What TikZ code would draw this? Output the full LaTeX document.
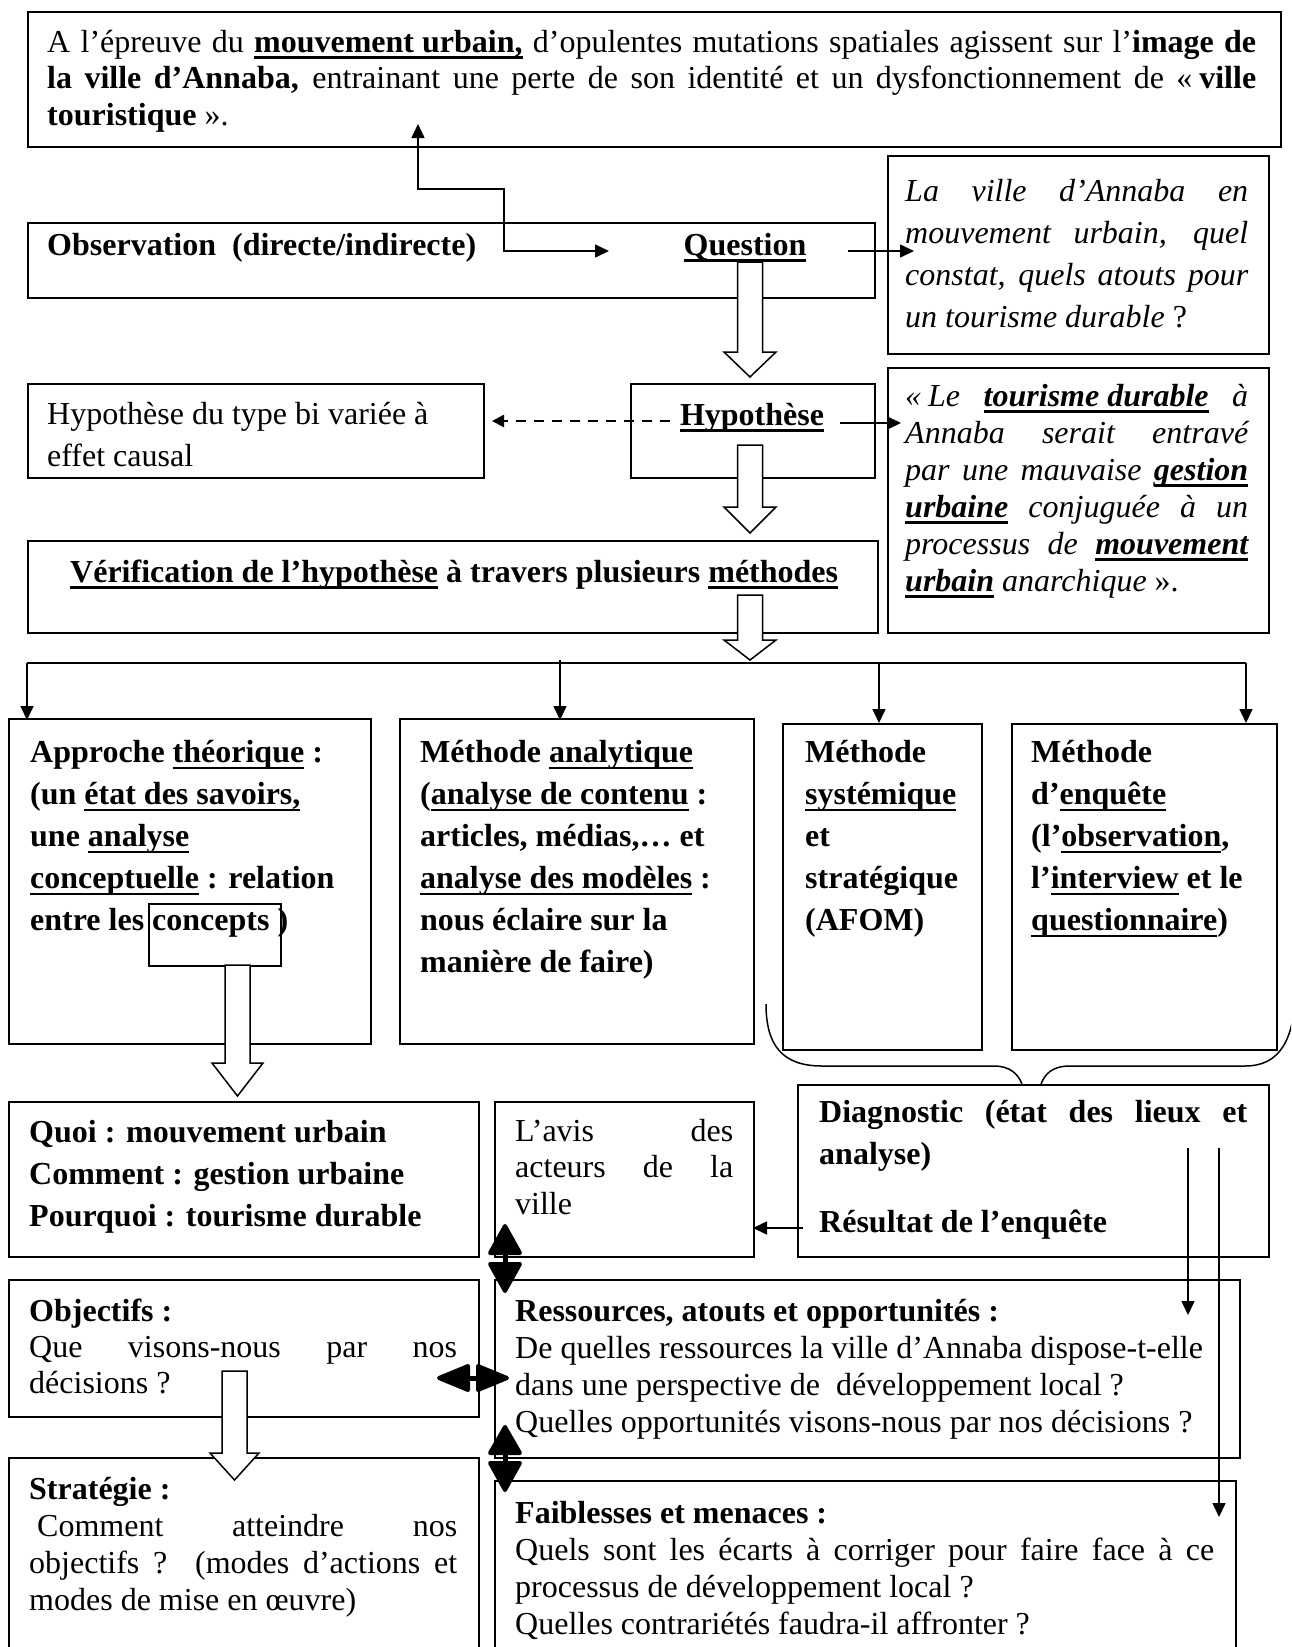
\documentclass[tikz,border=0pt]{standalone}
\usepackage{fontspec}
\setmainfont{Liberation Serif}
\usetikzlibrary{arrows.meta}
% underline at a fixed depth, crossing the descenders
\newsavebox{\ulbox}
\newcommand{\uline}[1]{\sbox{\ulbox}{#1}\rlap{\rule[-6.5pt]{\wd\ulbox}{2.4pt}}\usebox{\ulbox}}
% justified line of a given width
\newcommand{\jl}[2]{\makebox[#1][s]{#2}}
% bold underlined words
\newcommand{\bu}[1]{\textbf{\uline{#1}}}

\tikzset{
  box/.style={draw, line width=1.8pt, inner sep=0pt, anchor=north west},
  txt/.style={inner sep=0pt, anchor=north west, align=left},
  tf/.style={font=\fontsize{32}{#1}\selectfont},
  tfb/.style={font=\fontsize{32}{#1}\selectfont\bfseries},
  tfi/.style={font=\fontsize{32}{#1}\selectfont\itshape},
  link/.style={line width=1.6pt, -{Triangle[length=14pt,width=13pt]}},
  hollow/.style={draw, fill=white, line width=1.5pt, line join=miter},
  dblhead/.style={draw, fill, line width=4pt, line join=round},
  dblshaft/.style={draw, line width=5pt},
}

\begin{document}
\begin{tikzpicture}[x=1pt,y=-1pt]
\useasboundingbox (0,0) rectangle (1291,1647);
\clip (0,0) rectangle (1291,1647);
\fill[white] (0,0) rectangle (1291,1647);

% ---------- boxes ----------
\node[box, minimum width=1253pt, minimum height=135pt] (top) at (27,11) {};
\node[box, minimum width=847pt, minimum height=75pt] (obs) at (27,222) {};
\node[box, minimum width=381pt, minimum height=198pt] (qbox) at (887,155) {};
\node[box, minimum width=456pt, minimum height=94pt] (htype) at (27,383) {};
\node[box, minimum width=244pt, minimum height=94pt] (hyp) at (630,383) {};
\node[box, minimum width=381pt, minimum height=265pt] (hbox) at (887,367) {};
\node[box, minimum width=850pt, minimum height=92pt] (verif) at (27,540) {};
\node[box, minimum width=362pt, minimum height=325pt] (theo) at (8,718) {};
\node[box, minimum width=354pt, minimum height=325pt] (analy) at (399,718) {};
\node[box, minimum width=199pt, minimum height=326pt] (syst) at (782,723) {};
\node[box, minimum width=265pt, minimum height=326pt] (enq) at (1011,723) {};
\node[box, minimum width=132pt, minimum height=62pt] (concept) at (148,903) {};
\node[box, minimum width=470pt, minimum height=155pt] (quoi) at (8,1101) {};
\node[box, minimum width=259pt, minimum height=155pt] (avis) at (494,1101) {};
\node[box, minimum width=471pt, minimum height=172pt] (diag) at (797,1084) {};
\node[box, minimum width=470pt, minimum height=137pt] (obj) at (8,1279) {};
\node[box, minimum width=745pt, minimum height=178pt] (ress) at (494,1279) {};
\node[box, minimum width=470pt, minimum height=300pt] (strat) at (8,1457) {};
\node[box, minimum width=741pt, minimum height=300pt] (faib) at (494,1480) {};

% ---------- texts ----------
\node[txt, tf=36.6] (toptxt) at (47,26.4) {\strut\jl{1209pt}{A l’épreuve du \bu{mouvement urbain,} d’opulentes mutations spatiales agissent sur l’\textbf{image de}}\\
\jl{1209pt}{\textbf{la ville d’Annaba,} entrainant une perte de son identité et un dysfonctionnement de \hbox{«\kern7pt\textbf{ville}}}\\
\textbf{touristique} ».};

\node[txt, tfb=37, anchor=base west] (obstxt) at (47,255) {Observation\ \ (directe/indirecte)};
\node[inner sep=0pt, tfb=37, anchor=base] (qtxt) at (745,255) {\uline{Question}};

\node[txt, tfi=42] (qboxtxt) at (905,171.6) {\strut\jl{343pt}{La ville d’Annaba en}\\
\jl{343pt}{mouvement urbain, quel}\\
\jl{343pt}{constat, quels atouts pour}\\
un tourisme durable \upshape?};

\node[txt, tf=42] (htypetxt) at (47,394.6) {\strut Hypothèse du type bi variée à\\ effet causal};
\node[inner sep=0pt, tfb=37, anchor=base] (hyptxt) at (752,425) {\uline{Hypothèse}};

\node[txt, tfi=37] (hboxtxt) at (905,380.1) {\strut\jl{343pt}{\hbox{«\kern7pt Le} \bu{tourisme durable} à}\\
\jl{343pt}{Annaba serait entravé}\\
\jl{343pt}{par une mauvaise \bu{gestion}}\\
\jl{343pt}{\bu{urbaine} conjuguée à un}\\
\jl{343pt}{processus de \bu{mouvement}}\\
\bu{urbain} anarchique \upshape».};

\node[inner sep=0pt, tfb=37, anchor=base west] (veriftxt) at (70,582) {\uline{Vérification de l’hypothèse} à travers plusieurs \uline{méthodes}};

\node[txt, tfb=42] (theotxt) at (30,733) {\strut Approche \uline{théorique} :\\
(un \uline{état des savoirs,}\\
une \uline{analyse}\\
\uline{conceptuelle} : relation\\
entre les concepts )};

\node[txt, tfb=42] (analytxt) at (420,733) {\strut Méthode \uline{analytique}\\
(\uline{analyse de contenu} :\\
articles, médias,… et\\
\uline{analyse des modèles} :\\
nous éclaire sur la\\
manière de faire)};

\node[txt, tfb=42] (systtxt) at (805,733) {\strut Méthode\\ \uline{systémique}\\ et\\ stratégique\\ (AFOM)};

\node[txt, tfb=42] (enqtxt) at (1031,733) {\strut Méthode\\
d’\uline{enquête}\\
(l’\uline{observation},\\
l’\uline{interview} et le\\
\uline{questionnaire})};

\node[txt, tfb=42] (quoitxt) at (29,1112.5) {\strut Quoi : mouvement urbain\\
Comment : gestion urbaine\\
Pourquoi : tourisme durable};

\node[txt, tf=36.7] (avistxt) at (515,1115.3) {\strut\jl{218pt}{L’avis des}\\ \jl{218pt}{acteurs de la}\\ ville};

\node[txt, tfb=42] (diagtxt) at (819,1092.6) {\strut\jl{428pt}{Diagnostic (état des lieux et}\\
analyse)\\[26pt]
Résultat de l’enquête};

\node[txt, tf=36] (objtxt) at (29,1296.3) {\strut\textbf{Objectifs :}\\
\jl{428pt}{Que visons-nous par nos}\\
décisions ?};

\node[txt, tf=36.7] (resstxt) at (515,1296) {\strut\textbf{Ressources, atouts et opportunités :}\\
De quelles ressources la ville d’Annaba dispose-t-elle\\
dans une perspective de\ \ développement local ?\\
Quelles opportunités visons-nous par nos décisions ?};

\node[txt, tf=37.2] (strattxt) at (29,1473) {\strut\textbf{Stratégie :}\\
\hspace*{8pt}\jl{420pt}{Comment atteindre nos}\\
\jl{428pt}{objectifs ? (modes d’actions et}\\
modes de mise en œuvre)};

\node[txt, tf=37] (faibtxt) at (515,1497) {\strut\textbf{Faiblesses et menaces :}\\
\jl{699pt}{Quels sont les écarts à corriger pour faire face à ce}\\
processus de développement local ?\\
Quelles contrariétés faudra-il affronter ?};

% ---------- thin connectors ----------
\coordinate (up1) at (418,124);
\coordinate (up2) at (418,189);
\coordinate (up3) at (504,189);
\coordinate (up4) at (504,251);
\coordinate (up5) at (609,251);
\draw[line width=1.6pt, {Triangle[length=14pt,width=13pt]}-{Triangle[length=14pt,width=13pt]}]
  (up1) -- (up2) -- (up3) -- (up4) -- (up5);

\coordinate (q1) at (848,251);
\coordinate (q2) at (914,251);
\draw[link] (q1) -- (q2);

\coordinate (h1) at (840,423);
\coordinate (h2) at (901,423);
\draw[link] (h1) -- (h2);

\coordinate (d1) at (670,421);
\coordinate (d2) at (492,421);
\draw[line width=2.6pt, dash pattern=on 10pt off 8pt, -{Triangle[length=12pt,width=12pt]}] (d1) -- (d2);

% distribution bus towards the four methods
\coordinate (b1) at (27,663);
\coordinate (b2) at (560,663);
\coordinate (b3) at (879,663);
\coordinate (b4) at (1246,663);
\draw[line width=1.6pt] (b1) -- (b4);
\draw[link] (b1) -- (27,720);
\draw[link] (560,660) -- (560,720);
\draw[link] (b3) -- (879,723);
\draw[link] (b4) -- (1246,723);

\coordinate (r1) at (803,1228);
\coordinate (r2) at (753,1228);
\draw[link] (r1) -- (r2);

\coordinate (g1) at (1188,1148);
\coordinate (g2) at (1188,1315);
\coordinate (g3) at (1219,1148);
\coordinate (g4) at (1219,1517);
\draw[link] (g1) -- (g2);
\draw[link] (g3) -- (g4);

% ---------- brace gathering the last two methods ----------
\draw[line width=1.5pt]
  (766,1004) .. controls (766,1045) and (782,1066) .. (822,1066)
  -- (994,1066) .. controls (1010,1066) and (1018,1074) .. (1022,1084);
\draw[line width=1.5pt]
  (1041,1084) .. controls (1045,1074) and (1052,1066) .. (1070,1066)
  -- (1245,1066) .. controls (1280,1066) and (1294,1040) .. (1296,990);

% ---------- hollow block arrows ----------
\path[hollow] (737.5,262) -- (737.5,352) -- (724,352) -- (750,377) -- (776,352) -- (762.5,352) -- (762.5,262) -- cycle;
\path[hollow] (737.5,445) -- (737.5,507) -- (724,507) -- (750,533) -- (776,507) -- (762.5,507) -- (762.5,445) -- cycle;
\path[hollow] (737.5,595) -- (737.5,640) -- (724,640) -- (750,660) -- (776,640) -- (762.5,640) -- (762.5,595) -- cycle;
\path[hollow] (225,965) -- (225,1063) -- (212,1063) -- (237.5,1096) -- (263,1063) -- (250,1063) -- (250,965) -- cycle;
\path[hollow] (222,1371) -- (222,1453) -- (210,1453) -- (234.5,1480) -- (259,1453) -- (247,1453) -- (247,1371) -- cycle;

% ---------- thick double arrows ----------
% between "L'avis" and "Ressources"
\path[dblshaft] (505,1250) -- (505,1268);
\path[dblhead] (505,1226) -- (490,1253) -- (520,1253) -- cycle;
\path[dblhead] (490,1264) -- (520,1264) -- (505,1291) -- cycle;
% between "Objectifs" and "Ressources"
\path[dblshaft] (466,1378) -- (480,1378);
\path[dblhead] (439,1378) -- (468,1366) -- (468,1390) -- cycle;
\path[dblhead] (478,1366) -- (478,1390) -- (507,1378) -- cycle;
% between "Ressources" and "Faiblesses"
\path[dblshaft] (505,1450) -- (505,1467);
\path[dblhead] (505,1427) -- (490,1453) -- (520,1453) -- cycle;
\path[dblhead] (490,1463) -- (520,1463) -- (505,1490) -- cycle;
\end{tikzpicture}
\end{document}
